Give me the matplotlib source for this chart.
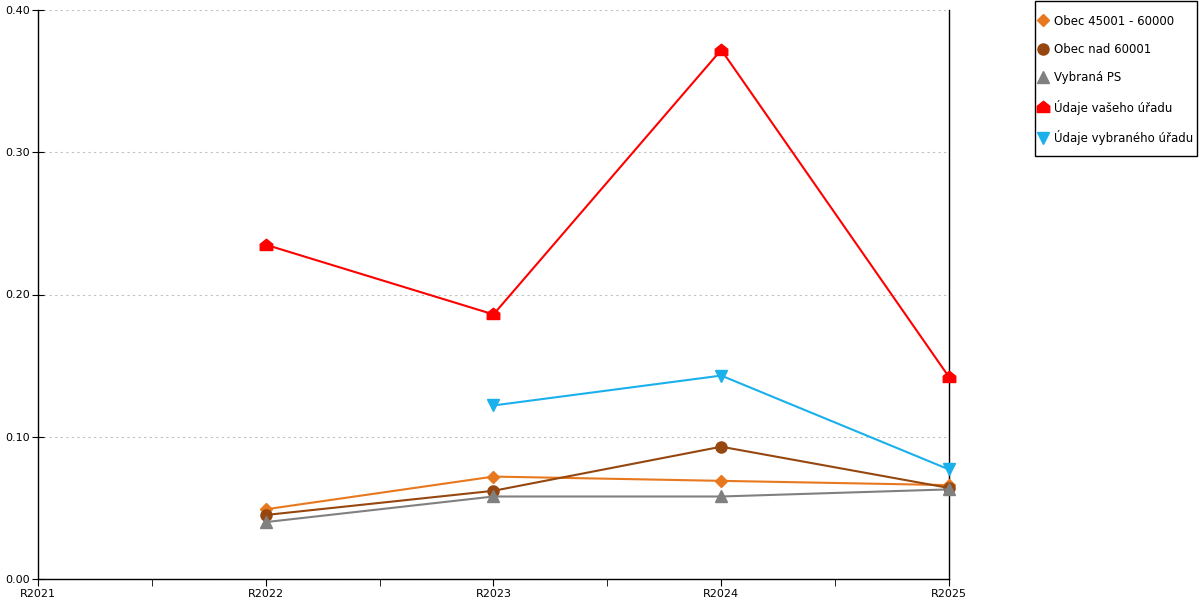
import matplotlib
matplotlib.use('Agg')
import matplotlib.pyplot as plt
import numpy as np
from matplotlib.path import Path
from matplotlib.patches import Rectangle

# data
years = ['R2021', 'R2022', 'R2023', 'R2024', 'R2025']
obec_45001 = [np.nan, 0.049, 0.072, 0.069, 0.066]
obec_nad_60001 = [np.nan, 0.045, 0.062, 0.093, 0.064]
vybrana_ps = [np.nan, 0.040, 0.058, 0.058, 0.063]
vas_urad = [np.nan, 0.235, 0.186, 0.372, 0.142]
vybrany_urad = [np.nan, np.nan, 0.122, 0.143, 0.077]

y_ticks = [0.0, 0.1, 0.2, 0.3, 0.4]

# house-shaped marker for "Údaje vašeho úřadu"
house = Path([(-1, -0.8), (1, -0.8), (1, 0.2), (0, 1), (-1, 0.2), (-1, -0.8)],
             [Path.MOVETO, Path.LINETO, Path.LINETO, Path.LINETO, Path.LINETO, Path.CLOSEPOLY])

series = [
    ('Obec 45001 - 60000', obec_45001, '#e8781e', 'D', 6),
    ('Obec nad 60001', obec_nad_60001, '#96470f', 'o', 8),
    ('Vybraná PS', vybrana_ps, '#808080', '^', 8),
    ('Údaje vašeho úřadu', vas_urad, '#ff0000', house, 9),
    ('Údaje vybraného úřadu', vybrany_urad, '#1ab0ec', 'v', 8),
]

plt.rcParams['font.family'] = ['DejaVu Sans']
fig = plt.figure(figsize=(12, 6), dpi=100)
ax = fig.add_axes([38 / 1200, 21 / 600, (949 - 38) / 1200, 569 / 600])

x = np.arange(len(years))
for label, vals, color, marker, ms in series:
    ax.plot(x, vals, color=color, marker=marker, markersize=ms, linewidth=1.5,
            label=label, clip_on=False, zorder=3)

ax.set_xlim(0, len(years) - 1)
ax.set_ylim(0, 0.4)
ax.set_xticks(x)
ax.set_xticklabels(years, fontsize=8)
ax.set_xticks(x[:-1] + 0.5, minor=True)
ax.set_yticks(y_ticks)
ax.set_yticklabels(['%.2f' % v for v in y_ticks], fontsize=8)

ax.tick_params(axis='x', which='both', direction='out', length=5, pad=2)
ax.tick_params(axis='y', direction='inout', length=8, pad=2)
ax.grid(axis='y', color='#c0c0c0', linestyle=(0, (2, 3)), linewidth=0.8)
ax.spines['top'].set_visible(False)
for s in ['left', 'right', 'bottom']:
    ax.spines[s].set_color('black')
    ax.spines[s].set_linewidth(1)

# legend without frame, box drawn separately so padding can differ per side
leg = fig.legend(loc='upper left', bbox_to_anchor=(1034 / 1200, 1 - 11 / 600),
                 fontsize=8.5, frameon=False,
                 handlelength=0.85, handletextpad=0.55,
                 labelspacing=1.3, borderpad=0.3, borderaxespad=0)
for h in leg.legend_handles:
    h.set_linestyle('none')
fig.patches.append(Rectangle((1034.5 / 1200, 1 - 155.5 / 600), 162 / 1200, 154 / 600,
                             transform=fig.transFigure, fill=False,
                             edgecolor='black', linewidth=1))

fig.savefig('out.png', dpi=100)
